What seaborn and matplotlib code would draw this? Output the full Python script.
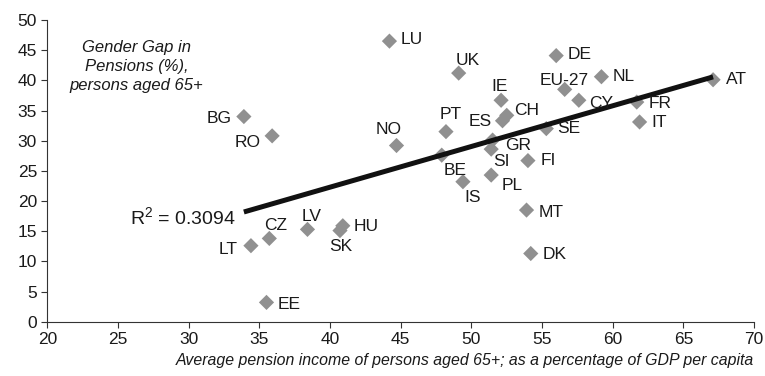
import matplotlib
matplotlib.use("Agg")
import matplotlib.pyplot as plt
import seaborn as sns
import numpy as np
import pandas as pd

countries = ["LU", "UK", "DE", "NL", "EU-27", "AT", "IE", "CH", "ES", "CY",
             "FR", "IT", "SE", "PT", "NO", "GR", "SI", "BE", "IS", "PL",
             "FI", "MT", "DK", "BG", "RO", "LT", "CZ", "LV", "HU", "SK", "EE"]
pension_income = [44.2, 49.1, 56.0, 59.2, 56.6, 67.1, 52.1, 52.5, 52.2, 57.6,
                  61.7, 61.9, 55.3, 48.2, 44.7, 51.5, 51.4, 47.9, 49.4, 51.4,
                  54.0, 53.9, 54.2, 33.9, 35.9, 34.4, 35.7, 38.4, 40.9, 40.7, 35.5]
gender_gap = [46.5, 41.2, 44.1, 40.6, 38.5, 40.1, 36.7, 34.2, 33.3, 36.7,
              36.4, 33.1, 32.0, 31.5, 29.2, 30.1, 28.6, 27.6, 23.2, 24.3,
              26.7, 18.5, 11.3, 34.0, 30.8, 12.6, 13.8, 15.3, 15.9, 15.1, 3.2]
r_squared = 0.3094

# label offsets in pixels (dx, dy), dy positive = up
label_offsets = {
    "LU": (22, 2), "UK": (9, 13), "DE": (23, 1), "NL": (22, 0), "EU-27": (0, 9),
    "AT": (23, 0), "IE": (-2, 14), "CH": (20, 5), "ES": (-22, -1), "CY": (22, -3),
    "FR": (23, -1), "IT": (20, -1), "SE": (22, 0), "PT": (5, 17), "NO": (-8, 16),
    "GR": (26, -5), "SI": (10, -12), "BE": (13, -15), "IS": (10, -16), "PL": (21, -10),
    "FI": (20, 0), "MT": (25, -2), "DK": (24, -1), "BG": (-25, -2), "RO": (-25, -7),
    "LT": (-23, -4), "CZ": (6, 13), "LV": (4, 13), "HU": (23, -1), "SK": (1, -16),
    "EE": (23, -2),
}

df = pd.DataFrame({"country": countries, "income": pension_income, "gap": gender_gap})

sns.set_style("ticks")
plt.rcParams["font.family"] = ["Liberation Sans", "DejaVu Sans"]
plt.rcParams["mathtext.fontset"] = "custom"
plt.rcParams["mathtext.rm"] = "Liberation Sans"
plt.rcParams["mathtext.it"] = "Liberation Sans:italic"

fig = plt.figure(figsize=(7.65, 3.76), dpi=100)
ax = fig.add_axes([0.062, 0.1444, 0.9237, 0.8024])

sns.scatterplot(data=df, x="income", y="gap", marker="D", s=60, color="#909090",
                edgecolor="none", linewidth=0, ax=ax, zorder=2)
sns.regplot(data=df, x="income", y="gap", scatter=False, ci=None, truncate=True,
            line_kws={"color": "#111111", "linewidth": 3.6, "solid_capstyle": "butt"},
            ax=ax)

for name, xv, yv in zip(countries, pension_income, gender_gap):
    dx, dy = label_offsets[name]
    ax.annotate(name, (xv, yv), xytext=(dx, dy), textcoords="offset pixels",
                ha="center", va="center", fontsize=12.5, color="#1a1a1a", zorder=4)

ax.text(33.3, 17.4, r"R$^{\mathrm{2}}$ = " + f"{r_squared:.4f}", ha="right", va="center",
        fontsize=14, color="#1a1a1a")
ax.text(26.3, 42.3, "Gender Gap in\nPensions (%),\npersons aged 65+", ha="center",
        va="center", fontsize=12, style="italic", color="#1a1a1a", linespacing=1.3)

ax.set_xlim(20, 70)
ax.set_ylim(0, 50)
ax.set_xticks(np.arange(20, 71, 5))
ax.set_yticks(np.arange(0, 51, 5))
ax.tick_params(labelsize=12.5, length=4, width=0.8, colors="#333333", labelcolor="#1a1a1a")
ax.set_xlabel("")
ax.set_ylabel("")
fig.text(0.9857, 0.02, "Average pension income of persons aged 65+; as a percentage of GDP per capita",
         ha="right", va="bottom", fontsize=11.4, style="italic", color="#1a1a1a")
sns.despine(ax=ax)
for sp in ("left", "bottom"):
    ax.spines[sp].set_color("#333333")
    ax.spines[sp].set_linewidth(0.8)

fig.savefig("out.png", dpi=100)
